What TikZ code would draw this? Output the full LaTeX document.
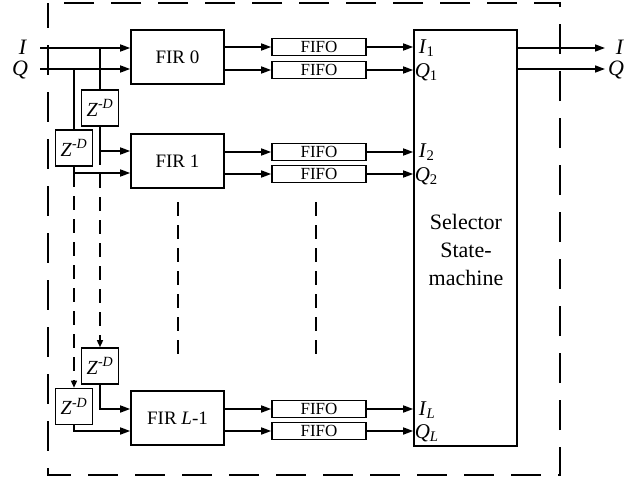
\documentclass[tikz,border=0pt]{standalone}
\usepackage{fontspec}
\setmainfont{Liberation Serif}
\usetikzlibrary{arrows.meta,calc}
\begin{document}
\begin{tikzpicture}[x=1pt,y=-1pt,
  line width=1.6pt,
  box/.style={draw,line width=1.6pt,inner sep=0pt,anchor=center},
  firbox/.style={box,minimum width=93pt,minimum height=54pt,font=\fontsize{19}{22}\selectfont},
  zbox/.style={box,minimum width=37pt,minimum height=36pt,font=\fontsize{20}{22}\selectfont},
  fifobox/.style={box,minimum width=94pt,minimum height=17pt,font=\fontsize{17}{17}\selectfont},
  arr/.style={-{Triangle[length=10pt,width=7pt]}},
  darr/.style={-{Triangle[length=7pt,width=6pt]},line width=1.4pt,dash pattern=on 14pt off 9pt},
  dline/.style={line width=1.4pt,dash pattern=on 14pt off 9pt},
  lbl/.style={inner sep=0pt,font=\fontsize{22}{24}\selectfont},
  slbl/.style={inner sep=0pt,anchor=west,font=\fontsize{21}{23}\selectfont}
]
\useasboundingbox (0,0) rectangle (643,479);
% outer dashed frame
\draw[line width=1.8pt,dash pattern=on 30pt off 17pt,dash phase=5pt] (48,3) rectangle (560,475);

% FIR boxes
\node[firbox] (fir0) at (177.5,57) {FIR 0};
\node[firbox] (fir1) at (177.5,161) {FIR 1};
\node[firbox] (firL) at (177.5,418) {FIR \textit{L}-1};

% delay boxes
\newcommand{\zd}{\textit{Z}\textsuperscript{-\textit{D}}}
\node[zbox] (z1) at (100,108) {\zd};
\node[zbox] (z2) at (74,148) {\zd};
\node[zbox] (z3) at (100,366) {\zd};
\node[zbox] (z4) at (74,406.5) {\zd};

% FIFO boxes
\node[fifobox] (f1) at (319,47) {FIFO};
\node[fifobox] (f2) at (319,70) {FIFO};
\node[fifobox] (f3) at (319,152) {FIFO};
\node[fifobox] (f4) at (319,174) {FIFO};
\node[fifobox] (f5) at (319,409) {FIFO};
\node[fifobox] (f6) at (319,431) {FIFO};

% selector
\node[box,minimum width=103pt,minimum height=416pt] (sel) at (465.5,238) {};
\node[align=center,inner sep=0pt,font=\fontsize{22}{28}\selectfont] (seltxt) at (466,250) {Selector\\State-\\machine};

% selector inner labels
\node[slbl] (li1) at (418,48) {\textit{I}\textsubscript{1}};
\node[slbl] (lq1) at (414,72) {\textit{Q}\textsubscript{1}};
\node[slbl] (li2) at (418,152) {\textit{I}\textsubscript{2}};
\node[slbl] (lq2) at (414,176) {\textit{Q}\textsubscript{2}};
\node[slbl] (liL) at (418,410) {\textit{I}\textsubscript{\textit{L}}};
\node[slbl] (lqL) at (414,433) {\textit{Q}\textsubscript{\textit{L}}};

% input/output labels
\node[lbl] (inIl) at (23,47) {\textit{I}};
\node[lbl] (inQl) at (20,70) {\textit{Q}};
\node[lbl] (outIl) at (620,47) {\textit{I}};
\node[lbl] (outQl) at (616,70) {\textit{Q}};

% coordinates
\coordinate (inI) at (40,48);
\coordinate (inQ) at (40,69);
\coordinate (outI) at (605,48);
\coordinate (outQ) at (605,69);

% inputs
\draw[arr] (inI) -- (inI -| fir0.west);
\draw[arr] (inQ) -- (inQ -| fir0.west);
% branches to delays
\draw (z1.north) -- (z1.north |- inI);
\draw (z2.north) -- (z2.north |- inQ);
% delays to FIR 1
\coordinate (j1) at (z1.south |- 0,151);
\coordinate (j2) at (z2.south |- 0,173);
\draw[arr] (z1.south) -- (j1) -- (j1 -| fir1.west);
\draw[arr] (z2.south) -- (j2) -- (j2 -| fir1.west);
% dashed chains
\draw[darr] (j1) -- (z3.north);
\draw[darr] (j2) -- (z4.north);
% delays to FIR L-1
\coordinate (j3) at (z3.south |- 0,409);
\coordinate (j4) at (z4.south |- 0,431);
\draw[arr] (z3.south) -- (j3) -- (j3 -| firL.west);
\draw[arr] (z4.south) -- (j4) -- (j4 -| firL.west);

% FIR to FIFO
\draw[arr] (f1.west -| fir0.east) -- (f1.west);
\draw[arr] (f2.west -| fir0.east) -- (f2.west);
\draw[arr] (f3.west -| fir1.east) -- (f3.west);
\draw[arr] (f4.west -| fir1.east) -- (f4.west);
\draw[arr] (f5.west -| firL.east) -- (f5.west);
\draw[arr] (f6.west -| firL.east) -- (f6.west);
% FIFO to selector
\draw[arr] (f1.east) -- (f1.east -| sel.west);
\draw[arr] (f2.east) -- (f2.east -| sel.west);
\draw[arr] (f3.east) -- (f3.east -| sel.west);
\draw[arr] (f4.east) -- (f4.east -| sel.west);
\draw[arr] (f5.east) -- (f5.east -| sel.west);
\draw[arr] (f6.east) -- (f6.east -| sel.west);
% outputs
\draw[arr] (outI -| sel.east) -- (outI);
\draw[arr] (outQ -| sel.east) -- (outQ);

% continuation dots
\coordinate (d1a) at (178,202);
\coordinate (d1b) at (178,354);
\coordinate (d2a) at (316,202);
\coordinate (d2b) at (316,354);
\draw[dline] (d1a) -- (d1b);
\draw[dline] (d2a) -- (d2b);
\end{tikzpicture}
\end{document}
